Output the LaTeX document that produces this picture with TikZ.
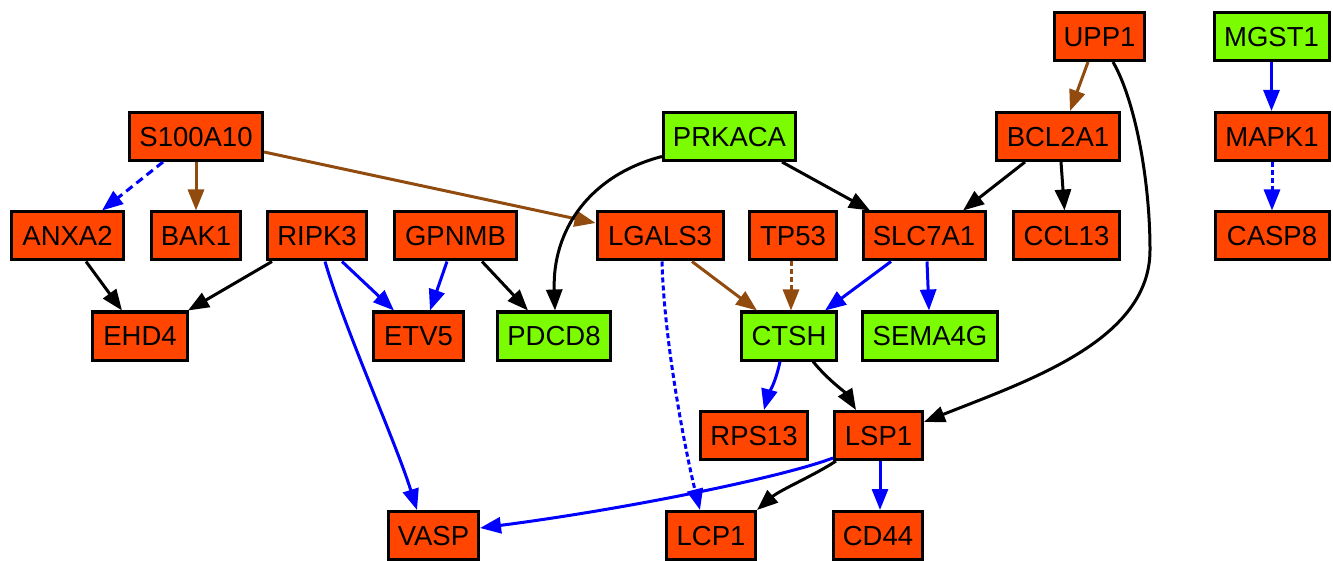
\documentclass[tikz,border=0pt]{standalone}
\usepackage{fontspec}
\setmainfont{Liberation Sans}
\usetikzlibrary{arrows.meta}
\definecolor{nodeorange}{RGB}{255,69,0}
\definecolor{nodegreen}{RGB}{124,252,0}
\definecolor{edgebrown}{RGB}{145,75,15}
\definecolor{edgeblue}{RGB}{0,0,255}
\tikzset{
  gbox/.style={draw=black, line width=3pt, rectangle, inner sep=0pt,
    minimum height=48pt, text height=19.5pt, text depth=0pt,
    font=\fontsize{27.5}{31}\selectfont, text=black},
  og/.style={gbox, fill=nodeorange},
  gg/.style={gbox, fill=nodegreen},
  edge/.style={line width=3pt, -{Triangle[length=21pt,width=16pt]}},
  bk/.style={edge, draw=black},
  bl/.style={edge, draw=edgeblue},
  br/.style={edge, draw=edgebrown},
  dsh/.style={dash pattern=on 8pt off 5pt},
  dtt/.style={dash pattern=on 5pt off 3pt}
}
\begin{document}
\begin{tikzpicture}[x=1pt,y=-1pt]
\useasboundingbox (0,0) rectangle (1333,561);
% row 0
\node[og, minimum width=90pt]  (UPP1)    at (1099.5,36.5) {UPP1};
\node[gg, minimum width=115pt] (MGST1)   at (1271.5,36.5) {MGST1};
% row 1
\node[og, minimum width=133pt] (S100A10) at (196,136.5) {S100A10};
\node[gg, minimum width=132pt] (PRKACA)  at (729.5,136.5) {PRKACA};
\node[og, minimum width=123pt] (BCL2A1)  at (1058,136.5) {BCL2A1};
\node[og, minimum width=114pt] (MAPK1)   at (1272,136.5) {MAPK1};
% row 2
\node[og, minimum width=112pt] (ANXA2)   at (67.5,236) {ANXA2};
\node[og, minimum width=89pt]  (BAK1)    at (196,236) {BAK1};
\node[og, minimum width=99pt]  (RIPK3)   at (317,236) {RIPK3};
\node[og, minimum width=122pt] (GPNMB)   at (455.5,236) {GPNMB};
\node[og, minimum width=126pt] (LGALS3)  at (660,236) {LGALS3};
\node[og, minimum width=87pt]  (TP53)    at (793,236) {TP53};
\node[og, minimum width=122pt] (SLC7A1)  at (924,236) {SLC7A1};
\node[og, minimum width=106pt] (CCL13)   at (1066.5,236) {CCL13};
\node[og, minimum width=114pt] (CASP8)   at (1272,236) {CASP8};
% row 3
\node[og, minimum width=95pt]  (EHD4)    at (140,336) {EHD4};
\node[og, minimum width=90pt]  (ETV5)    at (418.5,336) {ETV5};
\node[gg, minimum width=113pt] (PDCD8)   at (554,336) {PDCD8};
\node[gg, minimum width=95pt]  (CTSH)    at (789,336) {CTSH};
\node[gg, minimum width=135pt] (SEMA4G)  at (930,336) {SEMA4G};
% row 4
\node[og, minimum width=107pt] (RPS13)   at (754,435.5) {RPS13};
\node[og, minimum width=88pt]  (LSP1)    at (878.5,435.5) {LSP1};
% row 5
\node[og, minimum width=90pt]  (VASP)    at (433.5,535.5) {VASP};
\node[og, minimum width=89pt]  (LCP1)    at (711,535.5) {LCP1};
\node[og, minimum width=89pt]  (CD44)    at (878,535.5) {CD44};

% edges
\draw[bl, dsh] ([xshift=-33pt]S100A10.south) -- ([xshift=34.5pt]ANXA2.north);
\draw[br] (S100A10.south) -- (BAK1.north);
\draw[br] ([yshift=-15.5pt]S100A10.east) -- ([yshift=13pt]LGALS3.west);
\draw[bk] ([yshift=-20pt]PRKACA.west) .. controls (590,175) and (552,230) .. ([xshift=1pt]PDCD8.north);
\draw[bk] ([xshift=52.5pt]PRKACA.south) -- ([xshift=-54pt]SLC7A1.north);
\draw[bk] ([xshift=-33pt]BCL2A1.south) -- ([xshift=39pt]SLC7A1.north);
\draw[bk] ([xshift=3pt]BCL2A1.south) -- ([xshift=-2pt]CCL13.north);
\draw[br] ([xshift=-11.5pt]UPP1.south) -- ([xshift=12pt]BCL2A1.north);
\draw[bk] ([xshift=13.5pt]UPP1.south) .. controls (1135,100) and (1150,180) .. (1150,250)
   .. controls (1150,340) and (1030,380) .. ([yshift=13.5pt]LSP1.east);
\draw[bl] (MGST1.south) -- (MGST1.south |- MAPK1.north);
\draw[bl, dtt] (MAPK1.south) -- (CASP8.north);
\draw[bk] ([xshift=18.5pt]ANXA2.south) -- ([xshift=-18pt]EHD4.north);
\draw[bk] ([xshift=-45pt]RIPK3.south) -- ([xshift=-1pt]EHD4.north east);
\draw[bl] ([xshift=25pt]RIPK3.south) -- ([xshift=-24.5pt]ETV5.north);
\draw[bl] ([xshift=8pt]RIPK3.south) .. controls (345,330) and (395,440) .. ([xshift=-16.5pt]VASP.north);
\draw[bl] ([xshift=-8.5pt]GPNMB.south) -- ([xshift=11.5pt]ETV5.north);
\draw[bk] ([xshift=26.5pt]GPNMB.south) -- ([xshift=-26pt]PDCD8.north);
\draw[br] ([xshift=32pt]LGALS3.south) -- ([xshift=-32pt]CTSH.north);
\draw[bl, dtt] ([xshift=2pt]LGALS3.south) .. controls (664,340) and (685,450) .. ([xshift=-11pt]LCP1.north);
\draw[br, dtt] ([xshift=-2pt]TP53.south) -- ([xshift=2pt]CTSH.north);
\draw[bl] ([xshift=-33pt]SLC7A1.south) -- ([xshift=36pt]CTSH.north);
\draw[bl] ([xshift=3pt]SLC7A1.south) -- ([xshift=-1pt]SEMA4G.north);
\draw[bl] ([xshift=-9pt]CTSH.south) .. controls (775,385) and (768,395) .. ([xshift=10pt]RPS13.north);
\draw[bk] ([xshift=24pt]CTSH.south) .. controls (828,380) and (845,392) .. ([xshift=-22.5pt]LSP1.north);
\draw[bl] ([yshift=-22.5pt]LSP1.west) .. controls (780,478) and (620,510) .. ([yshift=7.5pt]VASP.east);
\draw[bk] ([xshift=-42.5pt]LSP1.south) .. controls (815,475) and (780,490) .. (LCP1.north east);
\draw[bl] ([xshift=1.5pt]LSP1.south) -- ([xshift=2pt]CD44.north);
\end{tikzpicture}
\end{document}
